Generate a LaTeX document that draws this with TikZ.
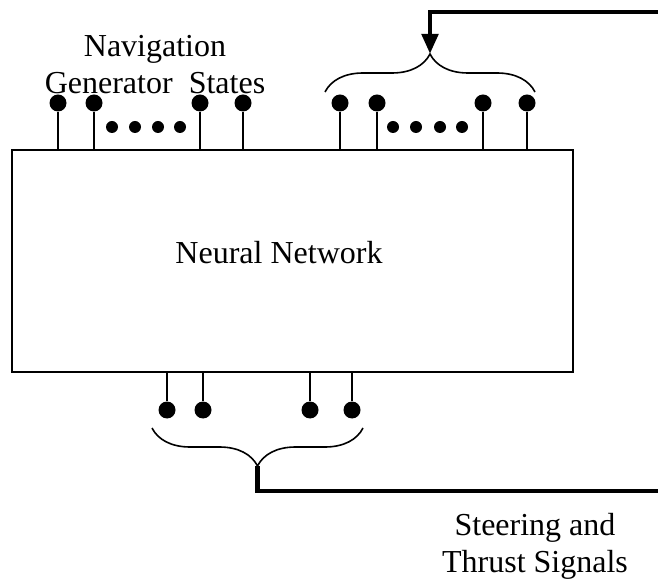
\documentclass[tikz,border=0pt]{standalone}
\usepackage{fontspec}
\setmainfont{Liberation Serif}
\usepackage{tikz}
\usetikzlibrary{arrows.meta}
\usetikzlibrary{decorations.pathreplacing}
\usetikzlibrary{calc}
\tikzset{bigdot/.style={circle,fill,inner sep=0pt,minimum size=8.5pt}}
\tikzset{smalldot/.style={circle,fill,inner sep=0pt,minimum size=6pt}}
\tikzset{lbl/.style={font=\fontsize{16}{18.5}\selectfont,align=center}}
\tikzset{stem/.style={line width=0.8pt}}
\tikzset{bus/.style={line width=2.4pt}}
\tikzset{brc/.style={decorate,decoration={brace,amplitude=19pt},line width=0.8pt}}
\begin{document}
\begin{tikzpicture}[x=0.5pt,y=-0.5pt]
          \useasboundingbox (0,0) rectangle (658,587);
          \node[draw,line width=1pt,inner sep=0pt,minimum width=280.5pt,minimum height=111pt] (nn) at (292.5,261) {};
          \node[lbl] (nnlbl) at (279,253) {Neural Network};
          \node[lbl] (navlbl) at (155,65) {Navigation\\Generator~~States};
          \node[lbl] (sglbl) at (535,546) {Steering and\\Thrust Signals};
          % inputs
          \node[bigdot] (tl1) at (58,103) {};
          \node[bigdot] (tl2) at (94,103) {};
          \node[bigdot] (tl3) at (200,103) {};
          \node[bigdot] (tl4) at (243,103) {};
          \node[bigdot] (tr1) at (340,103) {};
          \node[bigdot] (tr2) at (377,103) {};
          \node[bigdot] (tr3) at (483,103) {};
          \node[bigdot] (tr4) at (527,103) {};
          \draw[stem] (tl1) -- (tl1 |- nn.north);
          \draw[stem] (tl2) -- (tl2 |- nn.north);
          \draw[stem] (tl3) -- (tl3 |- nn.north);
          \draw[stem] (tl4) -- (tl4 |- nn.north);
          \draw[stem] (tr1) -- (tr1 |- nn.north);
          \draw[stem] (tr2) -- (tr2 |- nn.north);
          \draw[stem] (tr3) -- (tr3 |- nn.north);
          \draw[stem] (tr4) -- (tr4 |- nn.north);
          \node[smalldot] (dl1) at (112,127) {};
          \node[smalldot] (dl2) at (135,127) {};
          \node[smalldot] (dl3) at (158,127) {};
          \node[smalldot] (dl4) at (180,127) {};
          \node[smalldot] (dr1) at (393,127) {};
          \node[smalldot] (dr2) at (416,127) {};
          \node[smalldot] (dr3) at (440,127) {};
          \node[smalldot] (dr4) at (462,127) {};
          % outputs
          \node[bigdot] (b1) at (167,410) {};
          \node[bigdot] (b2) at (203,410) {};
          \node[bigdot] (b3) at (310,410) {};
          \node[bigdot] (b4) at (352,410) {};
          \draw[stem] (b1) -- (b1 |- nn.south);
          \draw[stem] (b2) -- (b2 |- nn.south);
          \draw[stem] (b3) -- (b3 |- nn.south);
          \draw[stem] (b4) -- (b4 |- nn.south);
          % braces and feedback
          \coordinate (tbl) at (325,92);
          \coordinate (tbr) at (535,92);
          \coordinate (tb) at (430,54);
          \coordinate (bbl) at (152,428);
          \coordinate (bbr) at (363,428);
          \coordinate (bb) at (257.5,466);
          \coordinate (fbin) at (658,12);
          \coordinate (fbout) at (658,491);
          \draw[brc] (tbl) -- (tbr);
          \draw[brc] (bbr) -- (bbl);
          \draw[bus,-{Triangle[length=10pt,width=8pt]}] (fbin) -| (tb);
          \draw[bus] (bb) |- (fbout);
        \end{tikzpicture}
\end{document}
